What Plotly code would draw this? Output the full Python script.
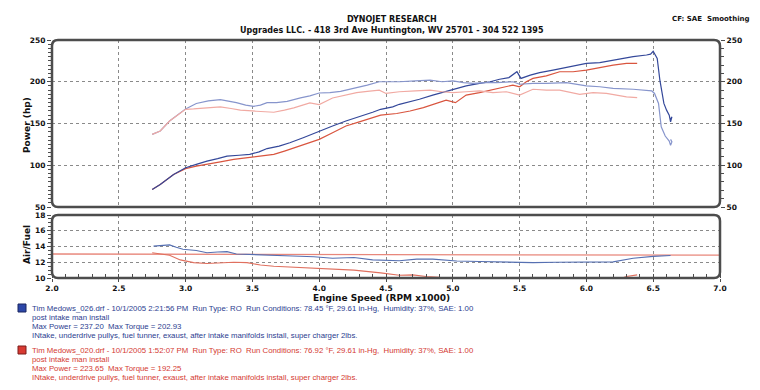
import plotly.graph_objects as go

# ---------------- data ----------------
bp_rpm = [2.75, 2.81, 2.91, 3.0, 3.08, 3.16, 3.24, 3.31, 3.40, 3.48, 3.55, 3.61, 3.70, 3.78, 3.88, 4.0, 4.1, 4.2, 4.3, 4.4,
          4.46, 4.55, 4.6, 4.68, 4.75, 4.85, 4.92, 5.0, 5.1, 5.2, 5.28, 5.35, 5.42, 5.48, 5.51, 5.58, 5.65, 5.75, 5.85,
          5.92, 6.0, 6.1, 6.2, 6.28, 6.35, 6.45, 6.48, 6.5, 6.53, 6.55, 6.58, 6.6, 6.62, 6.63, 6.64, 6.63]
bp_hp = [71, 77, 89, 97, 101, 105, 108, 111, 112, 113, 116, 120, 123, 127, 133, 141, 147, 153, 158, 163.5,
         167, 170, 173, 176, 179, 184, 187, 191, 195, 198, 200, 203, 205, 212, 204, 208, 211, 214, 217,
         219, 222, 223, 226, 228, 230, 232, 233, 236.5, 228, 202, 174, 166, 160, 152, 158, 155]

rp_rpm = [2.75, 2.81, 2.91, 3.0, 3.08, 3.16, 3.26, 3.36, 3.45, 3.51, 3.58, 3.66, 3.74, 3.81, 3.9, 4.0, 4.1, 4.2, 4.3, 4.4,
          4.46, 4.58, 4.68, 4.78, 4.88, 4.95, 5.02, 5.1, 5.2, 5.28, 5.36, 5.45, 5.5, 5.55, 5.6, 5.7, 5.8, 5.9, 6.0,
          6.1, 6.2, 6.3, 6.38]
rp_hp = [71, 77, 89, 96, 99, 101, 104, 107, 109, 110, 111, 113, 117, 121, 126, 131, 139, 147, 152, 157,
         160, 162, 165, 169, 174, 178, 175, 184, 187, 190, 193, 196, 194, 200, 204, 207, 212, 212, 214,
         217, 220, 222, 222]

bt_rpm = [2.75, 2.81, 2.88, 2.95, 3.0, 3.08, 3.17, 3.26, 3.32, 3.38, 3.45, 3.51, 3.56, 3.61, 3.68, 3.76, 3.86, 3.93,
          4.0, 4.08, 4.16, 4.25, 4.36, 4.45, 4.6, 4.72, 4.83, 4.92, 5.0, 5.08, 5.15, 5.25, 5.33, 5.45, 5.5, 5.6,
          5.7, 5.85, 5.92, 6.0, 6.1, 6.2, 6.35, 6.45, 6.49, 6.51, 6.54, 6.56, 6.59, 6.62, 6.63, 6.64, 6.63]
bt_tq = [137, 141, 153, 161, 167.5, 174, 177, 178.6, 177, 175, 172, 170.6, 172, 175, 175, 176.6, 180.6, 183,
         186.5, 187, 188.5, 191.6, 196, 200, 200, 201, 202, 200, 201, 199, 198, 199, 199, 200, 197, 198,
         198, 199, 197, 195, 194, 192, 191, 190, 189, 186, 174, 146, 135, 129, 124, 128, 131]

rt_rpm = [2.75, 2.81, 2.88, 2.95, 3.0, 3.06, 3.16, 3.26, 3.34, 3.41, 3.53, 3.66, 3.74, 3.81, 3.93, 4.0, 4.1, 4.2,
          4.28, 4.36, 4.45, 4.5, 4.6, 4.72, 4.83, 4.92, 5.0, 5.1, 5.2, 5.3, 5.4, 5.5, 5.6, 5.7, 5.8, 5.95, 6.05,
          6.15, 6.22, 6.3, 6.38]
rt_tq = [137, 141, 153, 161, 167, 167.5, 169, 170, 168, 166, 164.7, 163.5, 166, 168.7, 174.6, 172.6, 180.6, 184,
         187, 188.5, 190, 186, 188, 189, 190, 188, 187, 188, 189, 187, 188, 184, 191, 190, 190, 185, 187,
         186, 184, 182, 181]

afr_b_rpm = [2.76, 2.82, 2.88, 2.93, 2.98, 3.08, 3.16, 3.24, 3.31, 3.38, 3.5, 3.66, 3.8, 3.96, 4.1, 4.26, 4.4, 4.6,
             4.73, 4.85, 5.03, 5.2, 5.4, 5.6, 5.78, 6.03, 6.2, 6.35, 6.5, 6.63]
afr_b = [14.05, 14.15, 14.2, 13.9, 13.65, 13.5, 13.2, 13.3, 13.35, 13.05, 13.0, 12.9, 12.8, 12.7, 12.5, 12.6, 12.3,
         12.2, 12.4, 12.4, 12.15, 12.1, 12.0, 11.95, 12.0, 12.0, 12.05, 12.5, 12.75, 12.85]

afr_r_rpm = [2.75, 2.88, 2.96, 3.06, 3.16, 3.26, 3.36, 3.46, 3.56, 3.66, 3.78, 3.96, 4.1, 4.26, 4.46, 4.6, 4.7, 4.8,
             4.9, 4.96, 5.1, 5.5, 6.0, 6.25, 6.3, 6.38]
afr_r = [13.2, 12.9, 12.3, 11.95, 11.85, 11.9, 12.0, 11.95, 11.65, 11.5, 11.4, 11.3, 11.15, 11.0, 10.65, 10.35, 10.4,
         10.2, 10.1, 9.8, 9.8, 9.8, 9.8, 9.9, 10.2, 10.4]

afr_ref_rpm = [2.0, 7.0]
afr_ref = [13.05, 12.9]

x_ticks = [2.0, 2.5, 3.0, 3.5, 4.0, 4.5, 5.0, 5.5, 6.0, 6.5, 7.0]
hp_ticks = [50, 100, 150, 200, 250]
afr_ticks = [10, 12, 14, 16, 18]

header1 = "DYNOJET RESEARCH"
header2 = "Upgrades LLC. - 418 3rd Ave Huntington, WV 25701 - 304 522 1395"
header3 = "CF: SAE  Smoothing"

blue_lines = [
    "Tim Medows_026.drf - 10/1/2005 2:21:56 PM  Run Type: RO  Run Conditions: 78.45 °F, 29.61 in-Hg,  Humidity: 37%, SAE: 1.00",
    "post intake man install",
    "Max Power = 237.20  Max Torque = 202.93",
    "INtake, underdrive pullys, fuel tunner, exaust, after intake manifolds install, super charger 2lbs.",
]
red_lines = [
    "Tim Medows_020.drf - 10/1/2005 1:52:07 PM  Run Type: RO  Run Conditions: 76.92 °F, 29.61 in-Hg,  Humidity: 37%, SAE: 1.00",
    "post intake man install",
    "Max Power = 223.65  Max Torque = 192.25",
    "INtake, underdrive pullys, fuel tunner, exaust, after intake manifolds install, super charger 2lbs.",
]

# ---------------- layout geometry ----------------
W, H = 760, 390
ML, MR, MT, MB = 52, 40, 40, 112
PW, PH = W - ML - MR, H - MT - MB
TOP_BOTTOM_PX = 207
LOW_TOP_PX = 215


def px(x):
    return (x - ML) / PW


def py(y):
    return (H - MB - y) / PH


top_dom = [py(TOP_BOTTOM_PX), 1.0]
low_dom = [0.0, py(LOW_TOP_PX)]

BOLD = "DejaVu Sans"
GRID = "#8a8a8a"
FRAME = "#4d4d4d"

fig = go.Figure()

fig.add_trace(go.Scatter(x=bt_rpm, y=bt_tq, xaxis="x", yaxis="y3", mode="lines",
                         line=dict(color="#8795cc", width=1.2), showlegend=False))
fig.add_trace(go.Scatter(x=rt_rpm, y=rt_tq, xaxis="x", yaxis="y3", mode="lines",
                         line=dict(color="#f1aaa3", width=1.2), showlegend=False))
fig.add_trace(go.Scatter(x=rp_rpm, y=rp_hp, xaxis="x", yaxis="y", mode="lines",
                         line=dict(color="#d9553f", width=1.2), showlegend=False))
fig.add_trace(go.Scatter(x=bp_rpm, y=bp_hp, xaxis="x", yaxis="y", mode="lines",
                         line=dict(color="#34489a", width=1.2), showlegend=False))

fig.add_trace(go.Scatter(x=afr_ref_rpm, y=afr_ref, xaxis="x2", yaxis="y2", mode="lines",
                         line=dict(color="#e8877b", width=1.3), showlegend=False))
fig.add_trace(go.Scatter(x=afr_r_rpm, y=afr_r, xaxis="x2", yaxis="y2", mode="lines",
                         line=dict(color="#e0705f", width=1.1), showlegend=False))
fig.add_trace(go.Scatter(x=afr_b_rpm, y=afr_b, xaxis="x2", yaxis="y2", mode="lines",
                         line=dict(color="#5670b2", width=1.1), showlegend=False))

tickfont = dict(family=BOLD, size=7.5, color="#111", weight="bold")

fig.update_layout(
    width=W, height=H,
    margin=dict(l=ML, r=MR, t=MT, b=MB, pad=0),
    paper_bgcolor="white", plot_bgcolor="white",
    xaxis=dict(domain=[0, 1], anchor="y", range=[2, 7], tickvals=x_ticks, showticklabels=False,
               showgrid=True, gridcolor=GRID, griddash="dot", gridwidth=1, zeroline=False,
               showline=False, ticks=""),
    yaxis=dict(domain=top_dom, anchor="x", range=[50, 250], tickvals=hp_ticks,
               showgrid=True, gridcolor=GRID, griddash="dot", gridwidth=1, zeroline=False,
               showline=False, ticks="outside", ticklen=4, tickcolor=FRAME, tickwidth=1.2,
               tickfont=tickfont,
               minor=dict(dtick=5, ticks="outside", ticklen=3, tickcolor=FRAME, showgrid=False)),
    yaxis3=dict(overlaying="y", side="right", anchor="x", range=[50, 250], tickvals=hp_ticks,
                showgrid=False, zeroline=False, showline=False, ticks="outside", ticklen=4,
                tickcolor=FRAME, tickwidth=1.2, tickfont=tickfont,
                minor=dict(dtick=10, ticks="outside", ticklen=3, tickcolor=FRAME, showgrid=False)),
    xaxis2=dict(domain=[0, 1], anchor="y2", range=[2, 7], tickvals=x_ticks, tickformat=".1f",
                showgrid=True, gridcolor=GRID, griddash="dot", gridwidth=1, zeroline=False,
                showline=False, ticks="outside", ticklen=3, tickcolor=FRAME, tickfont=tickfont,
                minor=dict(dtick=0.1, ticks="inside", ticklen=4, tickcolor=FRAME, showgrid=False)),
    yaxis2=dict(domain=low_dom, anchor="x2", range=[10, 18], tickvals=afr_ticks,
                showgrid=True, gridcolor=GRID, griddash="dot", gridwidth=1, zeroline=False,
                showline=False, ticks="outside", ticklen=4, tickcolor=FRAME, tickwidth=1.2,
                tickfont=tickfont,
                minor=dict(dtick=0.5, ticks="outside", ticklen=3, tickcolor=FRAME, showgrid=False)),
)


def rounded(x0, y0, x1, y1, r=6):
    rx, ry = r / PW, r / PH
    return (f"M {x0+rx},{y0} L {x1-rx},{y0} Q {x1},{y0} {x1},{y0+ry} "
            f"L {x1},{y1-ry} Q {x1},{y1} {x1-rx},{y1} L {x0+rx},{y1} Q {x0},{y1} {x0},{y1-ry} "
            f"L {x0},{y0+ry} Q {x0},{y0} {x0+rx},{y0} Z")


LB0, LR0 = 308, 350  # first legend line of each block (px)
shapes = [
    dict(type="path", xref="paper", yref="paper", path=rounded(0, top_dom[0], 1, 1),
         line=dict(color=FRAME, width=2.5), layer="above"),
    dict(type="path", xref="paper", yref="paper", path=rounded(0, 0, 1, low_dom[1]),
         line=dict(color=FRAME, width=2.5), layer="above"),
    # legend colour boxes
    dict(type="rect", xref="paper", yref="paper", x0=px(18), x1=px(26), y0=py(LB0 + 4), y1=py(LB0 - 4),
         fillcolor="#2c47a8", line=dict(color="#1a2660", width=1)),
    dict(type="rect", xref="paper", yref="paper", x0=px(18), x1=px(26), y0=py(LR0 + 4), y1=py(LR0 - 4),
         fillcolor="#d83a32", line=dict(color="#7a1d1a", width=1)),
]
fig.update_layout(shapes=shapes)

ann = []
hfont = dict(family=BOLD, size=8, color="#111", weight="bold")
ann.append(dict(text=header1, x=px(392), y=py(19), xref="paper", yref="paper", showarrow=False,
                font=hfont, xanchor="center", yanchor="middle"))
ann.append(dict(text=header2, x=px(392), y=py(31), xref="paper", yref="paper", showarrow=False,
                font=hfont, xanchor="center", yanchor="middle"))
ann.append(dict(text=header3, x=px(752), y=py(19), xref="paper", yref="paper", showarrow=False,
                font=dict(family=BOLD, size=7, color="#111", weight="bold"),
                xanchor="right", yanchor="middle"))
ann.append(dict(text="Power (hp)", x=px(27), y=py(125), xref="paper", yref="paper", showarrow=False,
                textangle=-90, font=dict(family=BOLD, size=9, color="#111", weight="bold"),
                xanchor="center", yanchor="middle"))
ann.append(dict(text="Air/Fuel", x=px(27), y=py(245), xref="paper", yref="paper", showarrow=False,
                textangle=-90, font=dict(family=BOLD, size=9, color="#111", weight="bold"),
                xanchor="center", yanchor="middle"))
ann.append(dict(text="Engine Speed (RPM x1000)", x=px(381), y=py(298), xref="paper", yref="paper",
                showarrow=False, font=dict(family=BOLD, size=9, color="#111", weight="bold"),
                xanchor="center", yanchor="middle"))

for i, t in enumerate(blue_lines):
    ann.append(dict(text=t, x=px(30), y=py(LB0 + 9 * i), xref="paper", yref="paper", showarrow=False,
                    font=dict(family="Liberation Sans", size=7.8, color="#2b3d8f"),
                    xanchor="left", yanchor="middle"))
for i, t in enumerate(red_lines):
    ann.append(dict(text=t, x=px(30), y=py(LR0 + 9 * i), xref="paper", yref="paper", showarrow=False,
                    font=dict(family="Liberation Sans", size=7.8, color="#d43a32"),
                    xanchor="left", yanchor="middle"))
fig.update_layout(annotations=ann)

fig.write_html("out.html", config={"displayModeBar": False},
               post_script="document.body.style.margin='0';")
